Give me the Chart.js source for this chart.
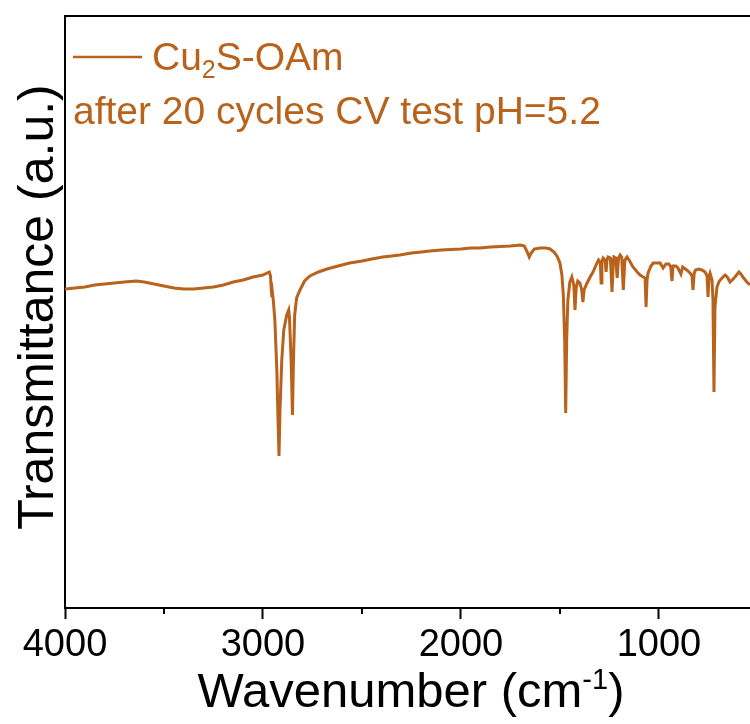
<!DOCTYPE html>
<html>
<head>
<meta charset="utf-8">
<script src="https://cdn.jsdelivr.net/npm/chart.js@4"></script>
<style>
  html, body { margin: 0; padding: 0; background: #fff; overflow: hidden; }
  canvas { display: block; }
</style>
</head>
<body>
<canvas id="ftir" width="750" height="724"></canvas>
<script>
// Espectro FTIR Cu2S-OAm (unidades arbitrarias)
const wavenumbers = [
  4000, 3950, 3900, 3850, 3800, 3750, 3700, 3640, 3600, 3550, 3500, 3450, 3400, 3350, 3300, 3250, 3200, 3150, 3100, 3050,
  3000, 2980, 2968, 2962, 2958, 2955, 2952, 2948, 2940, 2930, 2924, 2919, 2914, 2905, 2895, 2880, 2870, 2866, 2858, 2851,
  2846, 2840, 2830, 2813, 2790, 2763, 2720, 2677, 2620, 2562, 2500, 2450, 2395, 2350, 2309, 2250, 2200, 2157, 2100, 2050,
  2000, 1950, 1904, 1850, 1800, 1750, 1700, 1680, 1665, 1655, 1645, 1630, 1601, 1570, 1550, 1530, 1515, 1500, 1490, 1483,
  1476, 1471, 1466, 1460, 1450, 1440, 1430, 1424, 1418, 1410, 1399, 1390, 1384, 1378, 1363, 1345, 1333, 1315, 1305, 1296,
  1292, 1288, 1282, 1272, 1267, 1262, 1257, 1245, 1237, 1230, 1227, 1218, 1211, 1204, 1196, 1188, 1180, 1172, 1161, 1145,
  1131, 1110, 1095, 1080, 1070, 1065, 1060, 1055, 1040, 1029, 1010, 994, 979, 965, 950, 940, 934, 929, 915, 904,
  889, 880, 860, 843, 833, 828, 822, 815, 800, 783, 767, 757, 752, 747, 742, 732, 727, 722, 717, 707,
  695, 681, 666, 655, 641, 630, 616, 596, 586, 576, 556, 540
];
const transmittance = [
  319, 320, 321, 323, 324, 325, 326, 327, 326, 324, 322, 320, 319, 319, 320, 321, 323, 326, 328, 331,
  333, 335, 336, 332, 318, 311, 315, 308, 288, 238, 188, 152, 198, 248, 278, 293, 298, 290, 248, 193,
  248, 293, 310, 318, 327, 332, 336, 339, 342, 345, 347, 349, 351, 352, 353, 355, 356, 357, 358, 358.5,
  359, 360, 360, 361, 361.5, 362, 363, 362, 356, 351, 355, 359, 360, 360, 359, 356, 352, 345, 333, 313,
  268, 195, 268, 308, 326, 331, 323, 298, 320, 327, 325, 318, 306, 318, 325, 332, 336, 344, 348, 346,
  325, 346, 350, 348, 336, 348, 351, 350, 316, 348, 351, 350, 330, 350, 353, 351, 318, 348, 351, 346,
  341, 336, 333, 331, 330, 301, 328, 335, 342, 345, 345, 345, 340, 344, 344, 341, 327, 342, 342, 340,
  334, 341, 338, 335, 332, 318, 335, 338, 339, 338, 336, 332, 311, 332, 335, 328, 308, 216, 301, 321,
  327, 330, 333, 331, 326, 328, 331, 336, 334, 331, 326, 323
];
const xTicks = [4000, 3000, 2000, 1000];
const xMinorTicks = [3500, 2500, 1500];
const serieLabel = ['Cu', '2', 'S-OAm'];
const serieNota = 'after 20 cycles CV test pH=5.2';

const colorSerie = '#B8621B';
const fuente = '"Liberation Sans", Arial, sans-serif';

const puntos = wavenumbers.map((w, i) => ({ x: w, y: transmittance[i] }));

// Marco superior, ticks menores, titulos y leyenda
const decoracion = {
  id: 'decoracion',
  afterDraw(chart) {
    const ctx = chart.ctx;
    const area = chart.chartArea;
    const xs = chart.scales.x;
    ctx.save();

    // linea superior del marco
    ctx.strokeStyle = '#000';
    ctx.lineWidth = 2;
    ctx.beginPath();
    ctx.moveTo(area.left - 1, area.top);
    ctx.lineTo(area.right, area.top);
    ctx.stroke();

    // ticks menores
    xMinorTicks.forEach(v => {
      const px = Math.round(xs.getPixelForValue(v));
      ctx.beginPath();
      ctx.moveTo(px, area.bottom);
      ctx.lineTo(px, area.bottom + 6);
      ctx.stroke();
    });

    // titulo eje x con superindice
    ctx.fillStyle = '#000';
    ctx.textBaseline = 'alphabetic';
    ctx.textAlign = 'left';
    const big = '49px ' + fuente;
    const sup = '29px ' + fuente;
    ctx.font = big;
    const t1 = 'Wavenumber (cm';
    const w1 = ctx.measureText(t1).width;
    ctx.font = sup;
    const w2 = ctx.measureText('-1').width;
    ctx.font = big;
    const w3 = ctx.measureText(')').width;
    let x0 = 411 - (w1 + w2 + w3) / 2;
    const yBase = 707;
    ctx.fillText(t1, x0, yBase);
    ctx.font = sup;
    ctx.fillText('-1', x0 + w1, yBase - 18);
    ctx.font = big;
    ctx.fillText(')', x0 + w1 + w2, yBase);

    // titulo eje y
    ctx.save();
    ctx.translate(53, 307);
    ctx.rotate(-Math.PI / 2);
    ctx.textAlign = 'center';
    ctx.font = '50px ' + fuente;
    ctx.fillText('Transmittance (a.u.)', 0, 0);
    ctx.restore();

    // leyenda
    ctx.strokeStyle = colorSerie;
    ctx.lineWidth = 2.5;
    ctx.beginPath();
    ctx.moveTo(73, 57);
    ctx.lineTo(142, 57);
    ctx.stroke();

    ctx.fillStyle = colorSerie;
    ctx.font = '39px ' + fuente;
    let lx = 152;
    ctx.fillText(serieLabel[0], lx, 70);
    lx += ctx.measureText(serieLabel[0]).width;
    ctx.font = '25px ' + fuente;
    ctx.fillText(serieLabel[1], lx, 78);
    lx += ctx.measureText(serieLabel[1]).width;
    ctx.font = '39px ' + fuente;
    ctx.fillText(serieLabel[2], lx, 70);

    ctx.fillText(serieNota, 73, 124);
    ctx.restore();
  }
};

new Chart(document.getElementById('ftir'), {
  type: 'line',
  data: {
    datasets: [{
      label: 'Cu2S-OAm',
      data: puntos,
      borderColor: colorSerie,
      borderWidth: 3,
      pointRadius: 0,
      tension: 0,
      fill: false
    }]
  },
  options: {
    responsive: false,
    animation: false,
    devicePixelRatio: 1,
    parsing: false,
    layout: { padding: { top: 16, right: 0, left: 0, bottom: 0 } },
    plugins: {
      legend: { display: false },
      tooltip: { enabled: false }
    },
    scales: {
      x: {
        type: 'linear',
        reverse: true,
        min: 540,
        max: 4000,
        afterBuildTicks: scale => { scale.ticks = xTicks.map(v => ({ value: v })); },
        afterFit: scale => { scale.height = 116; },
        border: { display: true, color: '#000', width: 2 },
        grid: {
          drawOnChartArea: false,
          drawTicks: true,
          tickLength: 11,
          tickColor: '#000',
          tickWidth: 2
        },
        ticks: {
          color: '#000',
          font: { family: fuente, size: 38 },
          padding: 4,
          maxRotation: 0,
          autoSkip: false,
          callback: value => String(value)
        }
      },
      y: {
        min: 0,
        max: 592,
        afterFit: scale => { scale.width = 65; },
        border: { display: true, color: '#000', width: 2 },
        grid: { drawOnChartArea: false, drawTicks: false },
        ticks: { display: false }
      }
    }
  },
  plugins: [decoracion]
});
</script>
</body>
</html>
